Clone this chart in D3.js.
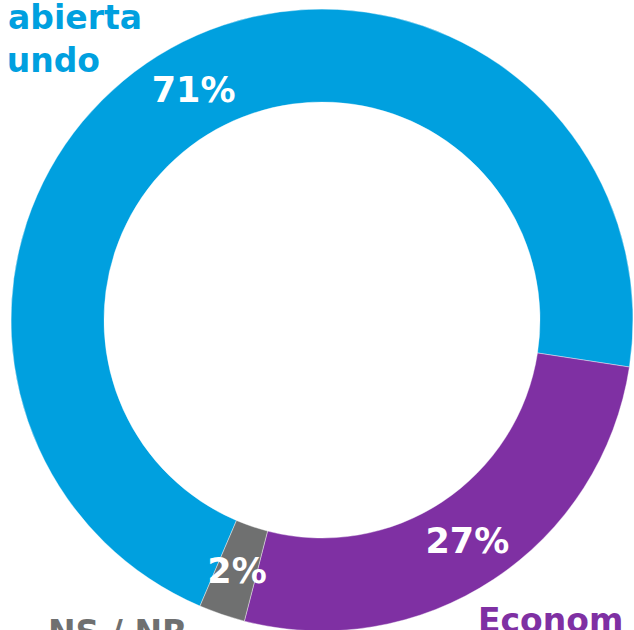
<!DOCTYPE html>
<html>
<head>
<meta charset="utf-8">
<script src="https://cdn.jsdelivr.net/npm/d3@7"></script>
<style>
html,body{margin:0;padding:0;background:#fff;overflow:hidden;}
svg{display:block;}
</style>
</head>
<body>
<svg id="chart" width="634" height="630"></svg>
<script>
const categories = ["Economía abierta al mundo", "Economía cerrada", "NS / NR"];
const values = [71.0, 26.6, 2.4];
const valueLabels = ["71%", "27%", "2%"];
const colors = ["#00a0df", "#7f30a3", "#6f7070"];

const W = 634, H = 630;
const cx = 322, cy = 320;
const outerR = 311, innerR = 218;
const startDeg = 203.1;

const svg = d3.select("#chart");
const g = svg.append("g").attr("transform", `translate(${cx},${cy})`);

const pie = d3.pie().sort(null).value(d => d)
  .startAngle(startDeg * Math.PI / 180)
  .endAngle((startDeg + 360) * Math.PI / 180);
const arcs = pie(values);
const arc = d3.arc().innerRadius(innerR).outerRadius(outerR);
const labelArc = d3.arc().innerRadius(264).outerRadius(264);

g.selectAll("path.slice").data(arcs).enter().append("path")
  .attr("class", "slice")
  .attr("d", arc)
  .attr("fill", (d, i) => colors[i])
  .attr("stroke", "#fff").attr("stroke-width", 0.4);

g.selectAll("text.pct").data(arcs).enter().append("text")
  .attr("class", "pct")
  .attr("transform", d => `translate(${labelArc.centroid(d)})`)
  .attr("text-anchor", "middle")
  .attr("dy", "0.36em")
  .attr("font-family", "DejaVu Sans")
  .attr("font-weight", "bold")
  .attr("font-size", 35)
  .attr("fill", "#fff")
  .text((d, i) => valueLabels[i]);

// Outer category labels (partly cut off by the frame, as in the original)
const outer = svg.append("g")
  .attr("font-family", "DejaVu Sans")
  .attr("font-weight", "bold")
  .attr("font-size", 33);
outer.append("text").attr("x", 142).attr("y", 29).attr("text-anchor", "end")
  .attr("fill", colors[0]).text("abierta");
outer.append("text").attr("x", 100).attr("y", 72).attr("text-anchor", "end")
  .attr("fill", colors[0]).text("undo");
outer.append("text").attr("x", 478).attr("y", 632)
  .attr("fill", colors[1]).text("Econom");
outer.append("text").attr("x", 48).attr("y", 644)
  .attr("fill", colors[2]).text(categories[2]);
</script>
</body>
</html>
